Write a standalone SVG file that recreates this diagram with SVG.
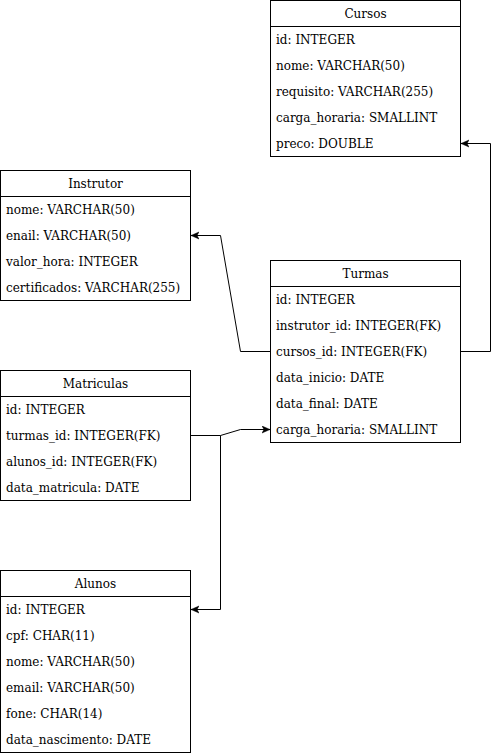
<svg xmlns="http://www.w3.org/2000/svg" width="500" height="756" viewBox="0 0 500 756">
<style>
.box{fill:#fff;stroke:#000;stroke-width:1}
.t{font-family:"DejaVu Serif",serif;font-size:12px;fill:#000}
.h{text-anchor:middle}
.c{fill:none;stroke:#000;stroke-width:1}
</style>
<defs>
<marker id="arr" markerWidth="10" markerHeight="10" refX="8" refY="4" orient="auto" markerUnits="userSpaceOnUse">
<path d="M0,0.5 L8,4 L0,7.5 L2,4 Z" fill="#000" stroke="#000" stroke-width="0.5"/>
</marker>
</defs>
<rect width="500" height="756" fill="#fff"/>
<g id="connectors">
<path class="c" d="M460.5,351.5 H490.5 V143.5 H461" marker-end="url(#arr)"/>
<path class="c" d="M270.5,351.5 H240.5 L220.5,235.5 H191" marker-end="url(#arr)"/>
<path class="c" d="M190.5,435.5 H220.5 L240.5,429.5 H270" marker-end="url(#arr)"/>
<path class="c" d="M220.5,435.5 V609.5 H191" marker-end="url(#arr)"/>
</g>
<g id="Cursos">
<rect class="box" x="270.5" y="0.5" width="190" height="156"/>
<line class="c" x1="270.5" y1="26.5" x2="460.5" y2="26.5"/>
<text class="t h" x="365.5" y="18">Cursos</text>
<text class="t" x="276" y="44">id: INTEGER</text>
<text class="t" x="276" y="70">nome: VARCHAR(50)</text>
<text class="t" x="276" y="96">requisito: VARCHAR(255)</text>
<text class="t" x="276" y="122">carga_horaria: SMALLINT</text>
<text class="t" x="276" y="148">preco: DOUBLE</text>
</g>
<g id="Instrutor">
<rect class="box" x="0.5" y="170.5" width="190" height="130"/>
<line class="c" x1="0.5" y1="196.5" x2="190.5" y2="196.5"/>
<text class="t h" x="95.5" y="188">Instrutor</text>
<text class="t" x="6" y="214">nome: VARCHAR(50)</text>
<text class="t" x="6" y="240">enail: VARCHAR(50)</text>
<text class="t" x="6" y="266">valor_hora: INTEGER</text>
<text class="t" x="6" y="292">certificados: VARCHAR(255)</text>
</g>
<g id="Turmas">
<rect class="box" x="270.5" y="260.5" width="190" height="182"/>
<line class="c" x1="270.5" y1="286.5" x2="460.5" y2="286.5"/>
<text class="t h" x="365.5" y="278">Turmas</text>
<text class="t" x="276" y="304">id: INTEGER</text>
<text class="t" x="276" y="330">instrutor_id: INTEGER(FK)</text>
<text class="t" x="276" y="356">cursos_id: INTEGER(FK)</text>
<text class="t" x="276" y="382">data_inicio: DATE</text>
<text class="t" x="276" y="408">data_final: DATE</text>
<text class="t" x="276" y="434">carga_horaria: SMALLINT</text>
</g>
<g id="Matriculas">
<rect class="box" x="0.5" y="370.5" width="190" height="130"/>
<line class="c" x1="0.5" y1="396.5" x2="190.5" y2="396.5"/>
<text class="t h" x="95.5" y="388">Matriculas</text>
<text class="t" x="6" y="414">id: INTEGER</text>
<text class="t" x="6" y="440">turmas_id: INTEGER(FK)</text>
<text class="t" x="6" y="466">alunos_id: INTEGER(FK)</text>
<text class="t" x="6" y="492">data_matricula: DATE</text>
</g>
<g id="Alunos">
<rect class="box" x="0.5" y="570.5" width="190" height="182"/>
<line class="c" x1="0.5" y1="596.5" x2="190.5" y2="596.5"/>
<text class="t h" x="95.5" y="588">Alunos</text>
<text class="t" x="6" y="614">id: INTEGER</text>
<text class="t" x="6" y="640">cpf: CHAR(11)</text>
<text class="t" x="6" y="666">nome: VARCHAR(50)</text>
<text class="t" x="6" y="692">email: VARCHAR(50)</text>
<text class="t" x="6" y="718">fone: CHAR(14)</text>
<text class="t" x="6" y="744">data_nascimento: DATE</text>
</g>
</svg>
